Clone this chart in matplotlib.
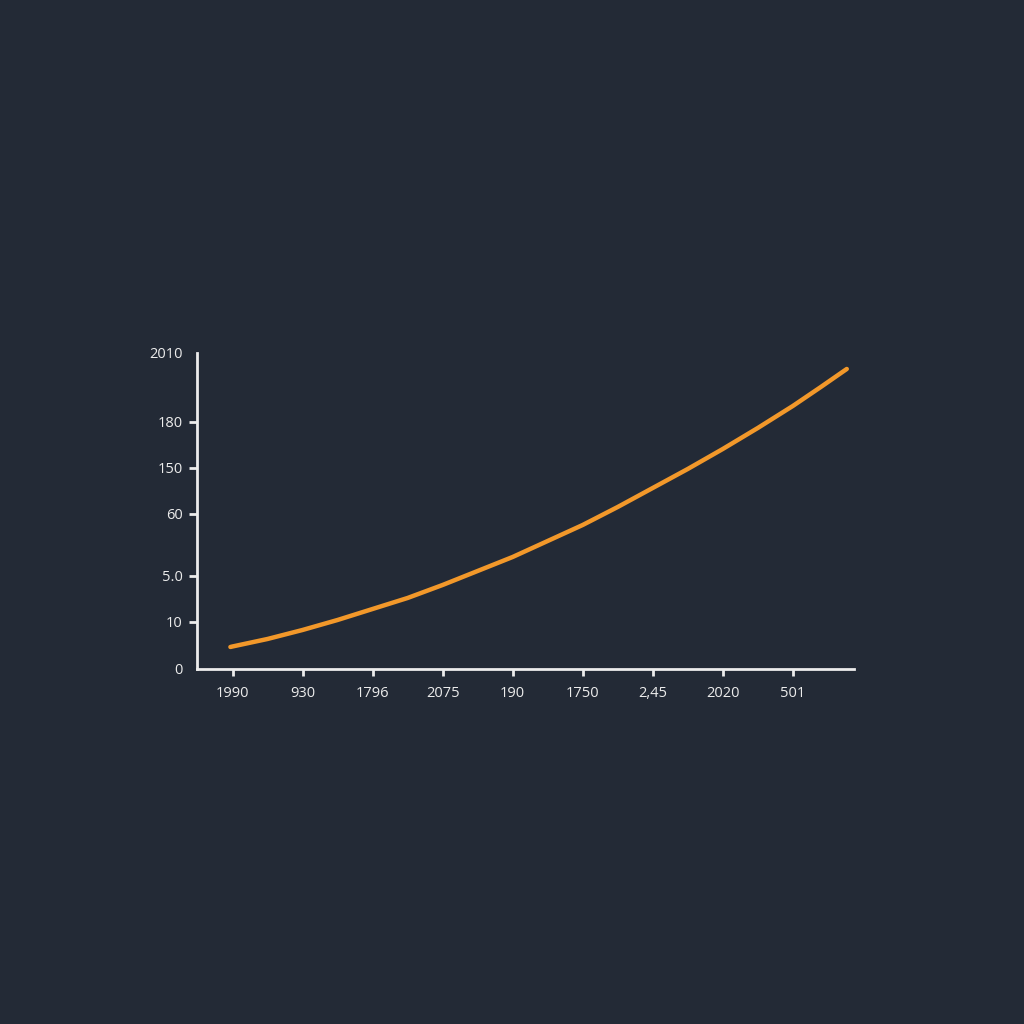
import numpy as np
import matplotlib.pyplot as plt

# tick labels as they appear on the chart
x_labels = ["1990", "930", "1796", "2075", "190", "1750", "2,45", "2020", "501"]
y_ticks = [0, 47, 93, 155, 201, 247, 316]
y_labels = ["0", "10", "5.0", "60", "150", "180", "2010"]

# curve (x in tick index units)
line_x = [-0.03, 0, 0.5, 1, 1.5, 2, 2.5, 3, 3.5, 4, 4.5, 5, 5.5,
          6, 6.5, 7, 7.5, 8, 8.4, 8.77]
line_y = [22, 22.5, 30, 39, 49, 60, 71, 84, 98, 112, 128, 144, 162,
          181, 200, 220, 241, 263, 282, 300]

bg = "#232a36"
fg = "#ececec"

fig = plt.figure(figsize=(10.24, 10.24), dpi=100, facecolor=bg)
ax = fig.add_axes([0.1921, 0.3467, 0.6414, 0.3089], facecolor=bg)

ax.plot(line_x, line_y, color="#f2982a", lw=3.2, solid_capstyle="round",
        solid_joinstyle="round")

ax.set_xlim(-0.511, 8.866)
ax.set_ylim(0, 316.3)

ax.set_xticks(range(len(x_labels)))
ax.set_xticklabels(x_labels)
ax.set_yticks(y_ticks)
ax.set_yticklabels(y_labels)

for s in ["top", "right"]:
    ax.spines[s].set_visible(False)
for s in ["left", "bottom"]:
    ax.spines[s].set_color(fg)
    ax.spines[s].set_linewidth(2)

ax.tick_params(axis="x", colors=fg, length=5, width=2, pad=7, labelsize=10.5)
ax.tick_params(axis="y", colors=fg, length=6, width=2, pad=4, labelsize=10.5)
for lab in ax.get_xticklabels() + ax.get_yticklabels():
    lab.set_fontfamily("Open Sans")

yt = ax.yaxis.get_major_ticks()
yt[0].tick1line.set_visible(False)
yt[-1].tick1line.set_visible(False)

fig.savefig("out.png", dpi=100, facecolor=bg)
